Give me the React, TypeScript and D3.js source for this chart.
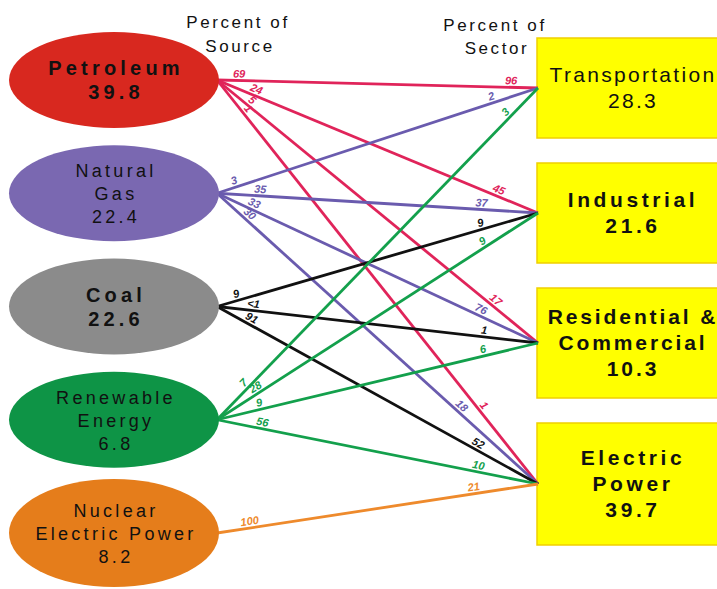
import React from "react";
import * as d3 from "d3";

// ---- data ----
const sources = ["Petroleum", "Natural Gas", "Coal", "Renewable Energy", "Nuclear Electric Power"];
const sourceLines = [["Petroleum"], ["Natural", "Gas"], ["Coal"], ["Renewable", "Energy"], ["Nuclear", "Electric Power"]];
const sourceTotals = ["39.8", "22.4", "22.6", "6.8", "8.2"];
const sectors = ["Transportation", "Industrial", "Residential & Commercial", "Electric Power"];
const sectorLines = [["Transportation"], ["Industrial"], ["Residential &", "Commercial"], ["Electric", "Power"]];
const sectorTotals = ["28.3", "21.6", "10.3", "39.7"];
// flows: source index, sector index, percent of source, percent of sector
const flowSource = [0, 0, 0, 0, 1, 1, 1, 1, 2, 2, 2, 3, 3, 3, 3, 4];
const flowSector = [0, 1, 2, 3, 0, 1, 2, 3, 1, 2, 3, 0, 1, 2, 3, 3];
const pctOfSource = ["69", "24", "5", "1", "3", "35", "33", "30", "9", "<1", "91", "7", "28", "9", "56", "100"];
const pctOfSector = ["96", "45", "17", "1", "2", "37", "76", "18", "9", "1", "52", "3", "9", "6", "10", "21"];

// ---- styling / layout ----
const ellipseFill = ["#d8281f", "#7a68b1", "#8b8b8b", "#0e9446", "#e57d1b"];
const lineColor = ["#e0245a", "#6a5bae", "#111111", "#13a04c", "#ee8a2c"];
const sourceBold = [true, false, true, false, false];
const sectorBold = [false, true, true, true];
const sectorSpacing = [2.3, 3.6, 2.9, 3.6];
const srcLabelDist = [22, 40, 40, 42, 20, 43, 38, 38, 22, 36, 36, 45, 50, 45, 45, 34];
const secLabelDist = [27, 45, 60, 95, 47, 57, 66, 109, 58, 55, 72, 40, 62, 55, 62, 64];
const boxHeights = [100, 100, 110, 122];

export default function App() {
  const W = 717, H = 589;
  const cx = 114, rx = 105, ry = 48;
  const ySrc = d3.scalePoint<string>().domain(sources).range([80, 533]).padding(0);
  const boxX = 537;
  const gap = 25;
  const boxTops: number[] = [];
  let acc = 38;
  boxHeights.forEach((h) => { boxTops.push(acc); acc += h + gap; });
  const ySec = (i: number) => boxTops[i] + boxHeights[i] / 2;
  const boxTextX = 633;

  const flows = flowSource.map((s, i) => {
    const x1 = cx + rx - 2, y1 = ySrc(sources[s]) as number;
    const x2 = boxX + 1, y2 = ySec(flowSector[i]);
    return { s, t: flowSector[i], x1, y1, x2, y2, ps: pctOfSource[i], pt: pctOfSector[i], i };
  });

  const label = (x1: number, y1: number, x2: number, y2: number, d: number, fromStart: boolean) => {
    const dx = x2 - x1, dy = y2 - y1;
    const len = Math.hypot(dx, dy);
    const ux = dx / len, uy = dy / len;
    const px = fromStart ? x1 + ux * d : x2 - ux * d;
    const py = fromStart ? y1 + uy * d : y2 - uy * d;
    const nx = uy, ny = -ux; // upward normal
    const off = 3;
    const ang = (Math.atan2(dy, dx) * 180) / Math.PI;
    return { x: px + nx * off, y: py + ny * off, ang };
  };

  const line = d3.line<[number, number]>();
  const fontFam = "'Liberation Sans', Arial, sans-serif";

  return (
    <svg width={W} height={H} style={{ position: "absolute", left: 0, top: 0, background: "#fff" }} fontFamily={fontFam}>
      {/* headers */}
      <g fontSize={17} fill="#111" letterSpacing={2.6} textAnchor="middle">
        <text x={238} y={28}>Percent of</text>
        <text x={240} y={52}>Source</text>
        <text x={495} y={31}>Percent of</text>
        <text x={497} y={54}>Sector</text>
      </g>

      {/* boxes */}
      {sectors.map((s, i) => (
        <rect key={s} x={boxX} y={boxTops[i]} width={240} height={boxHeights[i]} fill="#ffff00" stroke="#f0cf00" strokeWidth={1.5} />
      ))}

      {/* flow lines */}
      {flows.map((f) => (
        <path key={"l" + f.i} d={line([[f.x1, f.y1], [f.x2, f.y2]]) as string} stroke={lineColor[f.s]} strokeWidth={2.8} fill="none" />
      ))}

      {/* labels */}
      {flows.map((f) => {
        const a = label(f.x1, f.y1, f.x2, f.y2, srcLabelDist[f.i], true);
        const b = label(f.x1, f.y1, f.x2, f.y2, secLabelDist[f.i], false);
        return (
          <g key={"t" + f.i} fill={lineColor[f.s]} fontSize={11} fontWeight="bold" textAnchor="middle" fontStyle="italic">
            <text transform={`translate(${a.x},${a.y}) rotate(${a.ang})`}>{f.ps}</text>
            <text transform={`translate(${b.x},${b.y}) rotate(${b.ang})`}>{f.pt}</text>
          </g>
        );
      })}

      {/* source ellipses */}
      {sources.map((s, i) => {
        const cy = ySrc(s) as number;
        const lines = [...sourceLines[i], sourceTotals[i]];
        const lh = sourceBold[i] ? 24 : 23;
        const y0 = cy - ((lines.length - 1) * lh) / 2 + 7;
        return (
          <g key={s}>
            <ellipse cx={cx} cy={cy} rx={rx} ry={i === 4 ? 54 : ry} fill={ellipseFill[i]} />
            {lines.map((t, j) => (
              <text key={j} x={cx + 2} y={y0 + j * lh} textAnchor="middle" fontSize={sourceBold[i] ? 20 : 18}
                fontWeight={sourceBold[i] ? "bold" : "normal"} letterSpacing={sourceBold[i] ? 4.2 : 3.3} fill="#111">{t}</text>
            ))}
          </g>
        );
      })}

      {/* sector text */}
      {sectors.map((s, i) => {
        const lines = [...sectorLines[i], sectorTotals[i]];
        const lh = 26;
        const cy = ySec(i);
        const y0 = cy - ((lines.length - 1) * lh) / 2 + 7;
        return (
          <g key={"st" + s}>
            {lines.map((t, j) => (
              <text key={j} x={boxTextX} y={y0 + j * lh} textAnchor="middle" fontSize={21}
                fontWeight={sectorBold[i] ? "bold" : "normal"} letterSpacing={sectorSpacing[i]} fill="#111">{t}</text>
            ))}
          </g>
        );
      })}
    </svg>
  );
}
